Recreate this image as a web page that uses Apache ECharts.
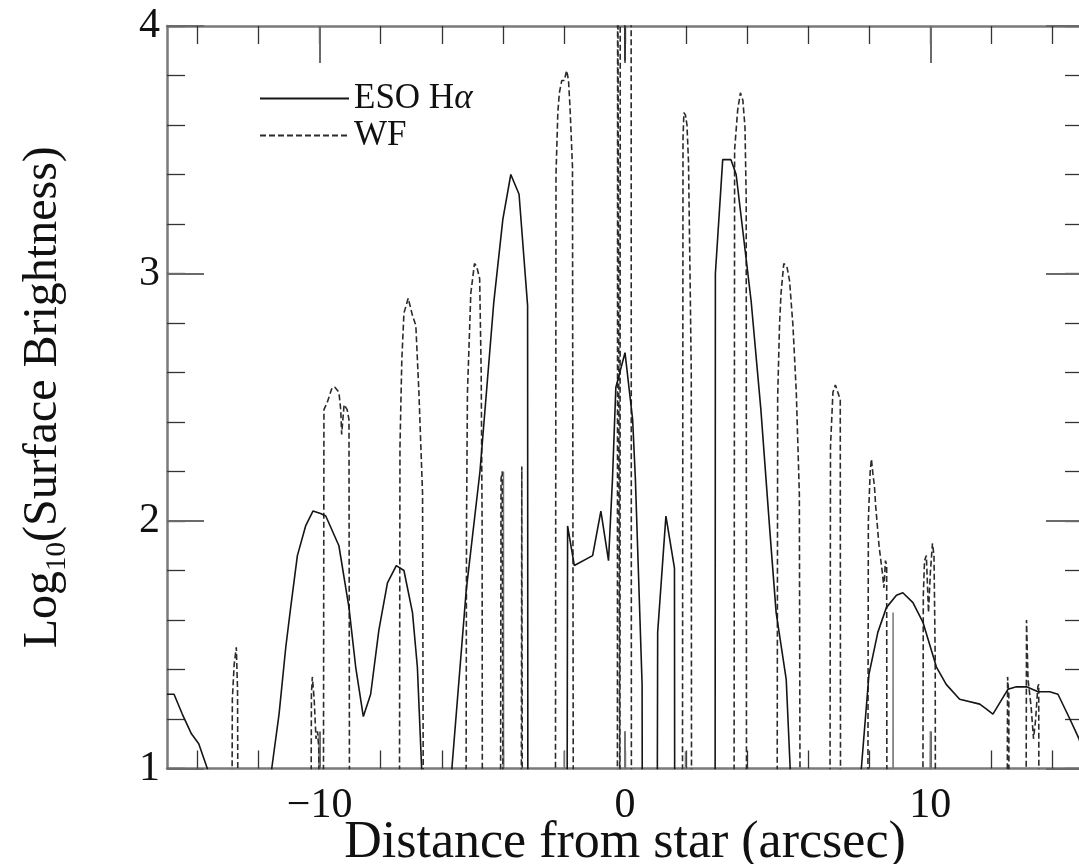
<!DOCTYPE html>
<html><head><meta charset="utf-8">
<script src="https://cdn.jsdelivr.net/npm/echarts@6/dist/echarts.min.js"></script>
<style>html,body{margin:0;padding:0;background:#fff}#c{width:1079px;height:864px}</style>
</head><body><div id="c"></div>
<script>
// ---- data ----
const xTicksMinor = [-14,-12,-10,-8,-6,-4,-2,0,2,4,6,8,10,12,14];
const xTicksMajor = [-10,0,10];
const xTickLabels = [-10,0,10];
const yTickLabels = [1,2,3,4];

// ESO H-alpha profile (values below 1 = off-scale, drawn as drops to the axis)
const esoHa = [
  [-15.0,1.30],[-14.77,1.30],[-14.5,1.22],[-14.2,1.14],[-13.96,1.10],[-13.68,1.0],[-13.6,0.5],
  [-11.62,0.5],[-11.57,1.0],[-11.33,1.22],[-11.11,1.49],[-10.95,1.65],[-10.73,1.86],[-10.46,1.98],
  [-10.22,2.04],[-9.97,2.03],[-9.8,2.02],[-9.37,1.90],[-9.04,1.65],[-8.82,1.41],[-8.57,1.21],
  [-8.33,1.30],[-8.06,1.56],[-7.78,1.75],[-7.49,1.82],[-7.24,1.80],[-6.96,1.63],[-6.8,1.41],[-6.66,1.0],[-6.6,0.5],
  [-5.72,0.5],[-5.67,1.0],[-5.2,1.72],[-4.75,2.2],[-4.3,2.88],[-4.0,3.22],[-3.74,3.40],[-3.47,3.32],[-3.19,2.87],[-3.18,0.5],
  [-1.9,0.5],[-1.88,1.98],[-1.66,1.82],[-1.06,1.86],[-0.79,2.04],[-0.54,1.84],[-0.41,2.17],[-0.3,2.54],
  [0.0,2.68],[0.25,2.41],[0.34,2.17],[0.56,1.34],[0.57,0.5],
  [1.05,0.5],[1.07,1.55],[1.34,2.02],[1.62,1.81],[1.63,0.5],
  [2.95,0.5],[2.96,3.0],[3.2,3.46],[3.47,3.46],[3.64,3.40],[4.13,2.89],[4.45,2.45],[4.75,1.95],
  [4.95,1.63],[5.28,1.36],[5.41,1.0],[5.45,0.5],
  [7.7,0.5],[7.74,1.0],[7.99,1.38],[8.28,1.55],[8.56,1.65],[8.89,1.70],[9.1,1.71],[9.43,1.67],
  [9.76,1.59],[10.2,1.41],[10.52,1.34],[10.96,1.28],[11.62,1.26],[11.84,1.24],[12.05,1.22],
  [12.54,1.32],[12.82,1.33],[13.15,1.33],[13.53,1.31],[13.91,1.31],[14.18,1.30],[14.57,1.20],[14.87,1.12],[15.0,1.06]
];

// WF profile
const wfProfile = [
  [-12.88,0.5],[-12.86,1.28],[-12.8,1.42],[-12.73,1.49],[-12.69,1.32],[-12.67,0.5],
  [-10.29,0.5],[-10.27,1.30],[-10.24,1.37],[-10.18,1.28],[-10.12,1.12],[-10.07,1.15],[-10.03,1.08],[-10.0,0.5],
  [-9.88,0.5],[-9.86,2.45],[-9.75,2.48],[-9.59,2.54],[-9.5,2.54],[-9.37,2.52],[-9.31,2.45],[-9.28,2.35],
  [-9.2,2.47],[-9.1,2.45],[-9.04,2.41],[-9.02,0.5],
  [-7.39,0.5],[-7.37,2.3],[-7.31,2.65],[-7.24,2.84],[-7.1,2.90],[-6.96,2.83],[-6.85,2.79],[-6.75,2.52],[-6.63,2.11],[-6.6,0.5],
  [-5.21,0.5],[-5.19,2.0],[-5.16,2.52],[-5.05,2.92],[-4.93,3.04],[-4.86,3.03],[-4.76,2.98],[-4.71,2.6],[-4.68,2.0],[-4.67,0.5],
  [-4.08,0.5],[-4.06,2.17],[-4.02,2.2],[-3.99,0.5],
  [-3.40,0.5],[-3.38,2.22],[-3.36,0.5],
  [-2.28,0.5],[-2.26,3.4],[-2.2,3.65],[-2.15,3.73],[-2.07,3.78],[-1.99,3.78],[-1.91,3.82],[-1.85,3.78],
  [-1.8,3.67],[-1.72,3.43],[-1.69,0.5],
  [-0.25,0.5],[-0.24,4.6],[-0.18,4.6],[-0.165,0.5],[-0.155,4.6],[-0.02,4.6],[0.0,3.86],[0.02,4.6],[0.2,4.6],[0.21,0.5],
  [1.88,0.5],[1.9,3.55],[1.93,3.65],[1.98,3.64],[2.03,3.6],[2.08,3.45],[2.14,2.9],[2.17,2.6],[2.18,0.5],
  [3.57,0.5],[3.59,3.5],[3.69,3.66],[3.78,3.73],[3.86,3.70],[3.93,3.59],[3.97,3.3],[3.98,0.5],
  [4.98,0.5],[5.0,2.5],[5.06,2.79],[5.11,2.92],[5.2,3.04],[5.3,3.03],[5.39,2.97],[5.5,2.79],[5.61,2.52],[5.71,2.11],[5.74,0.5],
  [6.71,0.5],[6.73,2.3],[6.81,2.52],[6.89,2.55],[6.97,2.52],[7.05,2.49],[7.06,0.5],
  [7.95,0.5],[7.97,2.0],[8.03,2.2],[8.07,2.25],[8.12,2.19],[8.17,2.14],[8.21,2.06],[8.32,1.90],[8.43,1.79],
  [8.48,1.73],[8.53,1.84],[8.57,1.82],[8.58,0.5],
  [9.75,0.5],[9.77,1.7],[9.81,1.84],[9.87,1.86],[9.94,1.63],[10.0,1.79],[10.07,1.91],[10.12,1.86],[10.16,1.44],[10.17,0.5],
  [12.51,0.5],[12.53,1.37],[12.57,1.30],[12.58,0.5],
  [13.13,0.5],[13.15,1.6],[13.2,1.36],[13.3,1.25],[13.38,1.12],[13.45,1.2],[13.52,1.33],[13.55,1.34],[13.56,0.5]
];

// isolated single-pixel spikes (solid)
const spikeX   = [-10.02, -3.98, -1.99, 0.0, 1.98, 8.78, 10.0];
const spikeTop = [1.14, 2.2, 1.07, 1.15, 1.07, 1.63, 1.15];

// ---- build ----
const spikes = [];
spikeX.forEach((x, i) => { spikes.push([x - 0.005, 0.5], [x, spikeTop[i]], [x + 0.005, 0.5]); });

const FONT = 'Liberation Serif';
const axisLineStyle = {color: '#7a7a7a', width: 2.5};

function xAx(pos, ticks, len, showLine, labels, extra) {
  return Object.assign({
    type: 'value', position: pos, min: -15, max: 15, gridIndex: 0,
    axisLine: {show: showLine, onZero: false, lineStyle: axisLineStyle},
    axisTick: {show: true, inside: true, length: len, customValues: ticks,
               lineStyle: {color: len > 20 ? '#6a6a6a' : '#333', width: len > 20 ? 2 : 1.3}},
    axisLabel: labels ? {show: true, customValues: labels, margin: 16, fontSize: 42, color: '#111', fontFamily: FONT,
      formatter: v => v < 0 ? '\u2212' + (-v) : String(v)} : {show: false},
    splitLine: {show: false}
  }, extra || {});
}
function yAx(pos, interval, len, showLine, labels, extra) {
  return Object.assign({
    type: 'value', position: pos, min: 1, max: 4, interval: interval, gridIndex: 0,
    axisLine: {show: showLine, onZero: false, lineStyle: axisLineStyle},
    axisTick: {show: true, inside: true, length: len,
               lineStyle: {color: len > 20 ? '#6a6a6a' : '#333', width: len > 20 ? 2 : 1.3}},
    axisLabel: labels ? {show: true, customValues: labels, margin: 7, fontSize: 42, color: '#111', fontFamily: FONT} : {show: false},
    splitLine: {show: false}
  }, extra || {});
}

const chart = echarts.init(document.getElementById('c'), null, {renderer: 'canvas'});
chart.setOption({
  backgroundColor: '#ffffff',
  animation: false,
  textStyle: {fontFamily: FONT},
  grid: {left: 167, top: 26, right: -4, bottom: 95.5, containLabel: false, outerBoundsMode: 'none'},
  legend: {
    data: ['ESO H\u03b1', 'WF'], orient: 'vertical', left: 259, top: 80, padding: 0,
    itemWidth: 89, itemHeight: 14, itemGap: 0,
    itemStyle: {opacity: 0},
    textStyle: {fontSize: 35, color: '#111', fontFamily: FONT, lineHeight: 37,
      rich: {i: {fontSize: 35, fontStyle: 'italic', fontFamily: FONT, color: '#111'}}},
    formatter: n => n === 'ESO H\u03b1' ? 'ESO H{i|\u03b1}' : n
  },
  xAxis: [
    xAx('bottom', xTicksMinor, 18, true, xTickLabels, {
      name: 'Distance from star (arcsec)', nameLocation: 'middle', nameGap: 49, nameMoveOverlap: false,
      nameTextStyle: {fontSize: 52, color: '#111', fontFamily: FONT}}),
    xAx('bottom', xTicksMajor, 37, false, null),
    xAx('top', xTicksMinor, 18, true, null),
    xAx('top', xTicksMajor, 37, false, null)
  ],
  yAxis: [
    yAx('left', 0.2, 18, true, null),
    yAx('left', 1, 37, false, yTickLabels, {
      name: 'Log{s|10}(Surface Brightness)', nameLocation: 'middle', nameGap: 95, nameRotate: 90, nameMoveOverlap: false,
      nameTextStyle: {fontSize: 48, color: '#111', fontFamily: FONT, lineHeight: 58,
        rich: {s: {fontSize: 29, fontFamily: FONT, color: '#111', verticalAlign: 'bottom', lineHeight: 58}}}}),
    yAx('right', 0.2, 18, true, null),
    yAx('right', 1, 37, false, null)
  ],
  series: [
    {name: 'WF', type: 'line', data: wfProfile, xAxisIndex: 0, yAxisIndex: 0, showSymbol: false, symbol: 'none',
     clip: true, lineStyle: {color: '#2b2b2b', width: 1.6, type: [6, 3]}, itemStyle: {color: '#2b2b2b'}, z: 3},
    {name: 'ESO H\u03b1', type: 'line', data: esoHa, xAxisIndex: 0, yAxisIndex: 0, showSymbol: false, symbol: 'none',
     clip: true, lineStyle: {color: '#151515', width: 1.6}, itemStyle: {color: '#151515'}, z: 4},
    {name: 'spikes', type: 'line', data: spikes, xAxisIndex: 0, yAxisIndex: 0, showSymbol: false, symbol: 'none',
     clip: true, lineStyle: {color: '#777', width: 1.5}, itemStyle: {color: '#777'}, z: 2}
  ]
});
</script></body></html>
